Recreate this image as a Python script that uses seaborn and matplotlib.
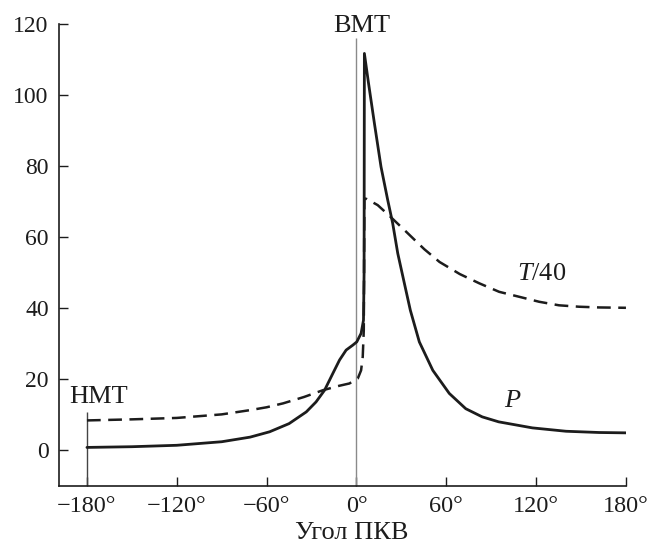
import numpy as np
import pandas as pd
import seaborn as sns
import matplotlib.pyplot as plt

# ---- data ----
angle_p = [-180, -150, -120, -90, -71, -58, -45, -33.5, -27, -21.3, -15.8, -11.3,
           -6.9, -2.4, 0.2, 3.1, 4.7, 5.1, 5.3, 8, 12, 16.4, 20.9, 24.2, 27.6, 32,
           36, 42, 51, 62, 73, 84, 95, 117.5, 140, 162, 180]
p_vals = [0.8, 1.0, 1.4, 2.4, 3.7, 5.2, 7.5, 10.8, 13.6, 16.9, 21.6, 25.4,
          28.2, 29.6, 30.5, 32.9, 36.6, 50.0, 111.7, 103.5, 92.0, 79.8, 70.4, 63.9,
          55.4, 47.0, 39.4, 30.5, 22.5, 16.0, 11.7, 9.4, 8.0, 6.3, 5.35, 5.0, 4.9]

angle_t = [-180, -150, -120, -90, -71, -60, -49, -35, -22.4, -12, -4.7, 0.9, 3.1,
           4.2, 4.9, 5.3, 7, 14.2, 22, 32, 45.3, 55.5, 69, 82, 95.3, 108.7, 122,
           135.3, 148.7, 162, 180]
t_vals = [8.4, 8.7, 9.1, 10.1, 11.3, 12.1, 13.2, 15.0, 16.9, 18.1, 18.8, 20.2,
          22.5, 26.3, 33.8, 70.9, 70.7, 69.0, 66.0, 62.0, 56.6, 53.0, 49.6, 47.0,
          44.6, 43.2, 41.8, 40.8, 40.4, 40.2, 40.1]

x_ticks = [-180, -120, -60, 0, 60, 120, 180]
x_tick_labels = ["\u2212180°", "\u2212120°", "\u221260°", "0°", "60°", "120°", "180°"]
y_ticks = [0, 20, 40, 60, 80, 100, 120]

TDC_ANGLE = 0
BDC_ANGLE = -180

df_p = pd.DataFrame({"angle": angle_p, "P": p_vals})
df_t = pd.DataFrame({"angle": angle_t, "T40": t_vals})

sns.set_theme(style="ticks")
plt.rcParams['font.family'] = ['Liberation Serif', 'DejaVu Serif']
plt.rcParams['mathtext.fontset'] = 'custom'
plt.rcParams['mathtext.rm'] = 'Liberation Serif'
plt.rcParams['mathtext.it'] = 'Liberation Serif:italic'

fig = plt.figure(figsize=(6.5, 5.44), dpi=100)
ax = fig.add_axes([0.090, 0.107, 0.873, 0.849])

ink = '#1c1c1c'
sns.lineplot(data=df_p, x="angle", y="P", sort=False, estimator=None,
             color=ink, lw=2.0, ax=ax)
sns.lineplot(data=df_t, x="angle", y="T40", sort=False, estimator=None,
             color=ink, lw=1.8, linestyle=(0, (5.5, 3)), ax=ax)

ax.vlines(TDC_ANGLE, -10, 116, color='#8a8a8a', lw=1.0, zorder=1)
ax.vlines(BDC_ANGLE, -10, 10.7, color='#444444', lw=1.0, zorder=1)

lab_fs = 19
ax.text(3.3, 119.4, "ВМТ", ha='center', va='center', fontsize=lab_fs, color=ink, clip_on=False)
ax.text(-172.3, 14.9, "НМТ", ha='center', va='center', fontsize=lab_fs, color=ink)
ax.text(124, 49.6, "$T$/40", ha='center', va='center', fontsize=lab_fs, color=ink)
ax.text(103.7, 13.8, "P", ha='center', va='center', fontsize=lab_fs, style='italic', color=ink)

ax.set_xlim(-199, 180)
ax.set_ylim(-10, 120)
ax.set_xticks(x_ticks)
ax.set_xticklabels(x_tick_labels)
ax.set_yticks(y_ticks)
ax.tick_params(direction='in', length=6.5, width=1.0, colors=ink, pad=7)
ax.tick_params(axis='x', labelsize=17.5)
ax.tick_params(axis='y', labelsize=17)
for s in ['top', 'right']:
    ax.spines[s].set_visible(False)
for s in ['left', 'bottom']:
    ax.spines[s].set_linewidth(1.2)
    ax.spines[s].set_color(ink)

ax.set_xlabel("Угол ПКВ", fontsize=lab_fs, color=ink)
ax.xaxis.label.set_va('baseline')
ax.set_ylabel("")
ax.xaxis.set_label_coords(0.516, -0.115)

fig.savefig("out.png", dpi=100)
